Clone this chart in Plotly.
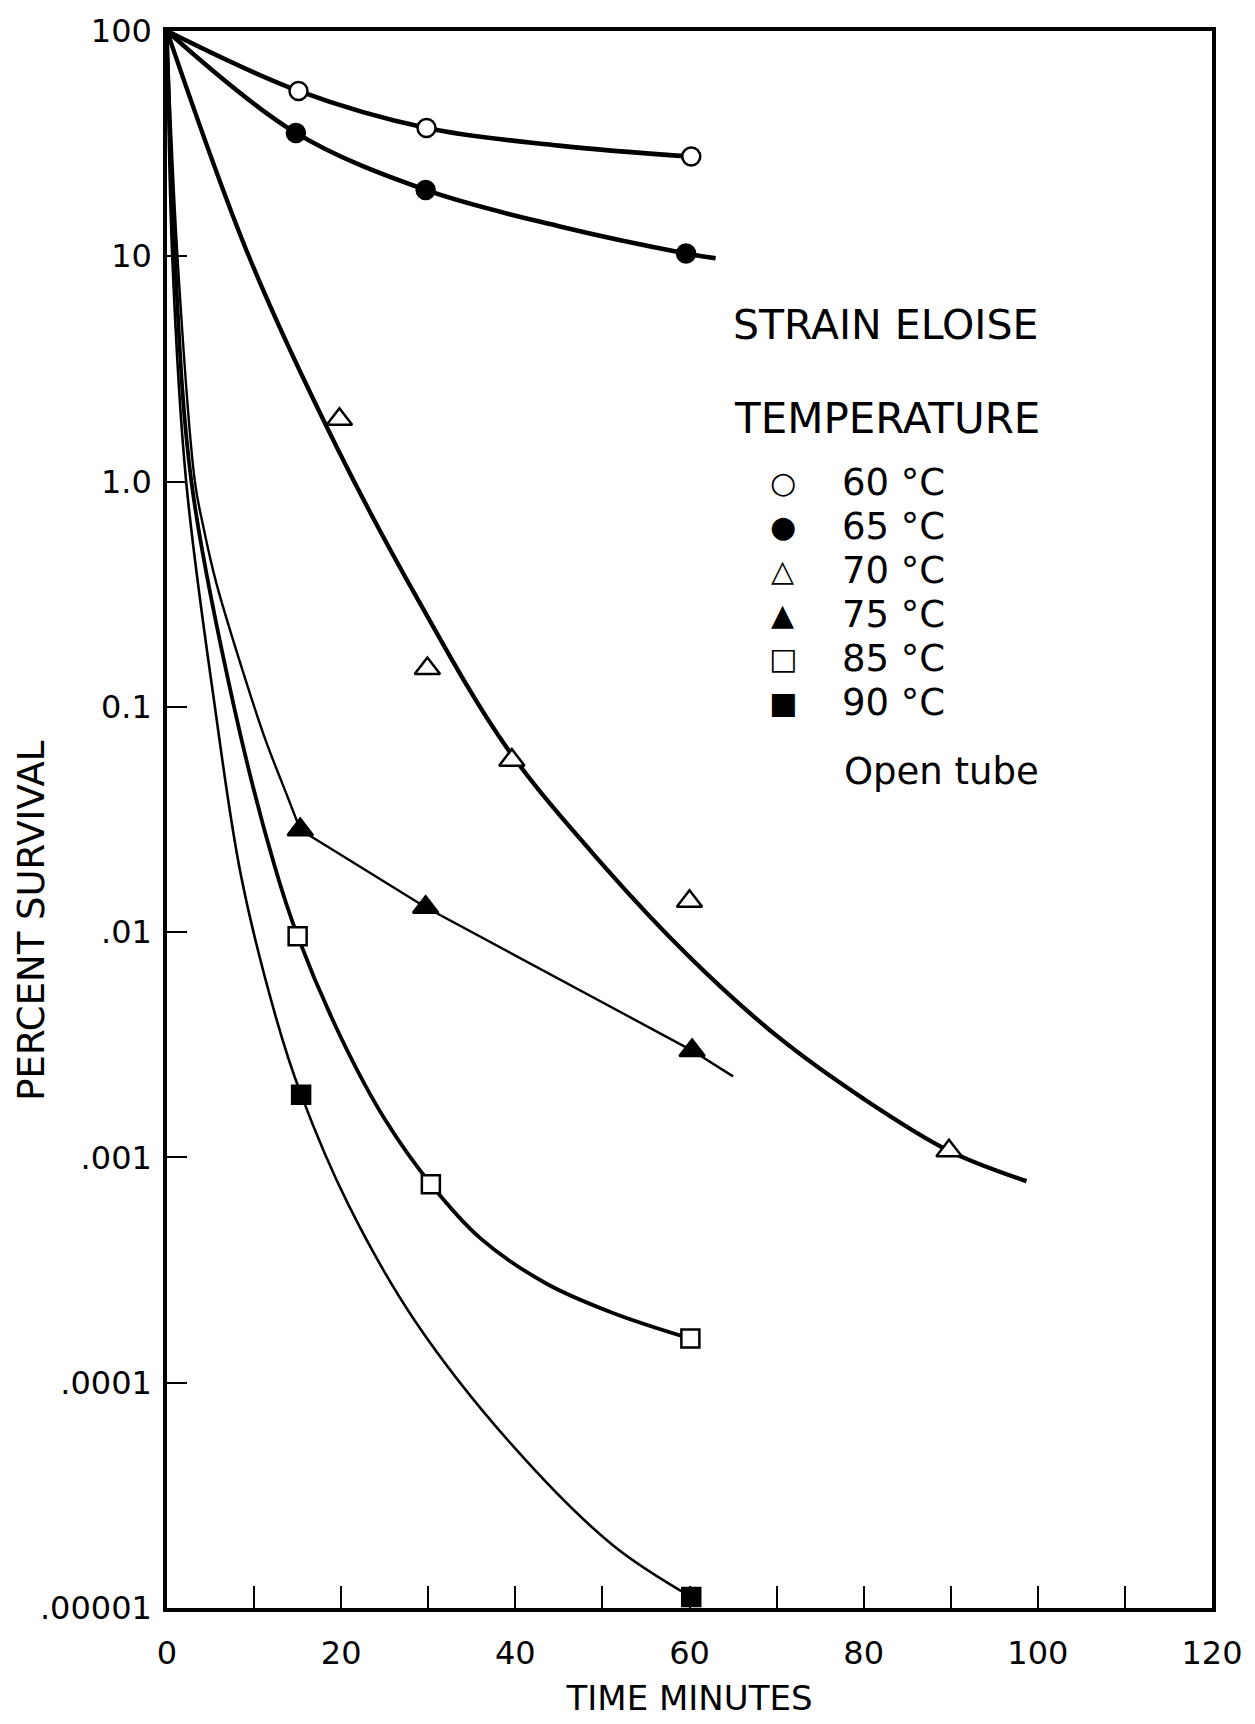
import plotly.graph_objects as go

# ---------------- measured points (minutes, percent survival) ----------------
t60 = [15.1, 29.8, 60.2]
s60 = [54.2, 37.1, 27.7]
t65 = [14.8, 29.7, 59.6]
s65 = [35.3, 19.7, 10.3]
t70 = [19.8, 29.9, 39.6, 60.0, 89.8]
s70 = [1.89, 0.148, 0.058, 0.0137, 0.00107]
t75 = [15.3, 29.7, 60.3]
s75 = [0.0285, 0.0129, 0.00298]
t85 = [15.0, 30.3, 60.1]
s85 = [0.0096, 0.00076, 0.000157]
t90 = [15.4, 60.2]
s90 = [0.0019, 0.0000112]

# ---------------- fitted curves ----------------
c60_t = [0, 15.1, 29.8, 45, 60.2]
c60_s = [100, 54.2, 37.1, 31.0, 27.7]
c65_t = [0, 14.8, 29.7, 45, 59.6, 63]
c65_s = [100, 35.3, 19.7, 13.6, 10.3, 9.8]
c70_t = [0, 9.4, 19.7, 28.8, 39.0, 50, 60, 70, 80, 89.8, 98.7]
c70_s = [100, 10, 1.37, 0.30, 0.066, 0.0200, 0.00776, 0.00347, 0.00182, 0.00107, 0.000785]
c75_t = [0, 1.2, 3.2, 4.1, 5.65, 9.07, 11.34, 14.0, 15.3, 29.7, 60.3, 65.0]
c75_s = [100, 10, 1.0, 0.65, 0.356, 0.130, 0.0708, 0.0385, 0.0285, 0.0129, 0.00298, 0.00229]
c75_break = 8  # index of the 15-minute point where the straight segment begins
c85_t = [0, 0.9, 2.8, 7.7, 12.3, 15.0, 20.0, 25.0, 30.3, 36.0, 43.6, 51.2, 60.1]
c85_s = [100, 10, 1.0, 0.1, 0.020, 0.0096, 0.00339, 0.00148, 0.00076, 0.000437, 0.000275, 0.000204, 0.000157]
c90_t = [0, 0.6, 2.2, 5.5, 8.5, 12.5, 15.4, 20.8, 28.4, 39.8, 51.2, 60.2]
c90_s = [100, 10, 1.0, 0.1, 0.0178, 0.0042, 0.0019, 0.00062, 0.00019, 0.000052, 0.000019, 0.0000112]

# ---------------- axis ticks ----------------
y_tickvals = [0.00001, 0.0001, 0.001, 0.01, 0.1, 1, 10, 100]
y_ticktext = [".00001", ".0001", ".001", ".01", "0.1", "1.0", "10", "100"]

legend_glyphs = ["○", "●", "△", "▲", "□", "■"]
legend_labels = ["60 °C", "65 °C", "70 °C", "75 °C", "85 °C", "90 °C"]

FONT = "DejaVu Sans"
fig = go.Figure()


def curve(t, s, width, shape="spline"):
    fig.add_trace(go.Scatter(
        x=t, y=s, mode="lines", showlegend=False, hoverinfo="skip",
        line=dict(color="black", width=width, shape=shape, smoothing=1.0)))


def points(t, s, symbol, fill, size, name):
    fig.add_trace(go.Scatter(
        x=t, y=s, mode="markers", name=name, showlegend=False,
        marker=dict(symbol=symbol, size=size, color=fill,
                    line=dict(color="black", width=2.5))))


curve(c60_t, c60_s, 4.6)
curve(c65_t, c65_s, 4.6)
curve(c70_t, c70_s, 4.3)
curve(c75_t[:c75_break + 1], c75_s[:c75_break + 1], 2.4)
curve(c75_t[c75_break:], c75_s[c75_break:], 2.4, shape="linear")
curve(c85_t, c85_s, 3.8)
curve(c90_t, c90_s, 2.6)

points(t60, s60, "circle", "white", 18, "60 °C")
points(t65, s65, "circle", "black", 18, "65 °C")
points(t70, s70, "triangle-up", "white", 22, "70 °C")
points(t75, s75, "triangle-up", "black", 22, "75 °C")
points(t85, s85, "square", "white", 18, "85 °C")
points(t90, s90, "square", "black", 18, "90 °C")

L, R, T, B = 167, 36, 25, 104
W, H = 1255, 1724
pw, ph = W - L - R, H - T - B


def px(xp):
    return (xp - L) / pw


def py(yp):
    return (H - B - yp) / ph


def note(text, x, y, size, xanchor="center", angle=0):
    return dict(text=text, x=px(x), y=py(y), xref="paper", yref="paper",
                xanchor=xanchor, yanchor="middle", showarrow=False, textangle=angle,
                font=dict(family=FONT, size=size, color="black"))


ann = [note("STRAIN ELOISE", 890, 322, 41),
       note("TEMPERATURE", 892, 417, 42)]
row_y = [482, 526.5, 571, 615.5, 660, 704.5]
for g, lab, yy in zip(legend_glyphs, legend_labels, row_y):
    ann.append(note(g, 787, yy, 30))
    ann.append(note(lab, 845, yy, 37, xanchor="left"))
ann.append(note("Open tube", 847, 774, 37, xanchor="left"))
ann.append(note("PERCENT SURVIVAL", 31, 924, 37, angle=-90))

fig.update_layout(
    width=W, height=H,
    margin=dict(l=L, r=R, t=T, b=B, pad=0),
    paper_bgcolor="white", plot_bgcolor="white",
    font=dict(family=FONT, color="black"),
    annotations=ann,
    xaxis=dict(
        range=[0, 120], tickmode="linear", tick0=0, dtick=20,
        ticks="inside", ticklen=22, tickwidth=2, tickcolor="black",
        minor=dict(dtick=10, tick0=0, ticks="inside", ticklen=22, tickwidth=2,
                   tickcolor="black", showgrid=False),
        showline=True, linewidth=3.5, linecolor="black", mirror=True,
        showgrid=False, zeroline=False,
        tickfont=dict(family=FONT, size=32, color="black"),
        ticklabelstandoff=14,
        title=dict(text="TIME MINUTES", font=dict(family=FONT, size=34, color="black"),
                   standoff=16),
    ),
    yaxis=dict(
        type="log", range=[-5, 2],
        tickmode="array", tickvals=y_tickvals, ticktext=y_ticktext,
        ticks="inside", ticklen=20, tickwidth=2, tickcolor="black",
        showline=True, linewidth=3.5, linecolor="black", mirror=True,
        showgrid=False, zeroline=False,
        tickfont=dict(family=FONT, size=32, color="black"),
        ticklabelstandoff=5,
    ),
)

fig.write_html("out.html")
